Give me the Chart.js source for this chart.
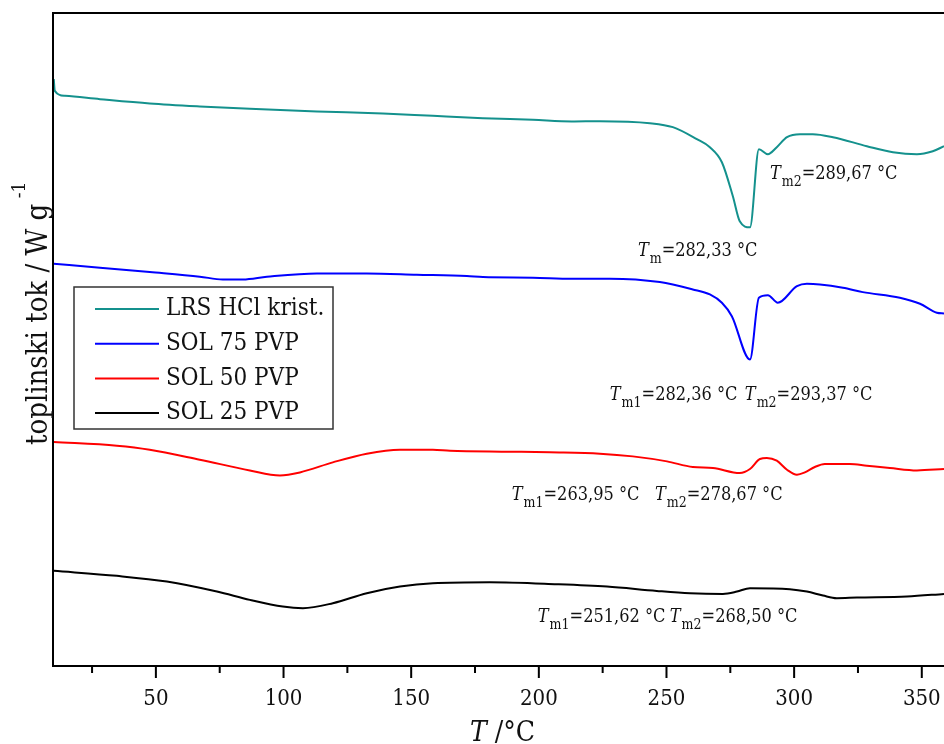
<!DOCTYPE html>
<html>
<head>
<meta charset="utf-8">
<script src="https://cdn.jsdelivr.net/npm/chart.js@4.4.0/dist/chart.umd.min.js"></script>
<style>
  html, body { margin: 0; padding: 0; background: #fff; }
  #wrap { width: 944px; height: 744px; }
</style>
</head>
<body>
<div id="wrap"><canvas id="dsc"></canvas></div>
<script>
const seriesNames = ['LRS HCl krist.', 'SOL 75 PVP', 'SOL 50 PVP', 'SOL 25 PVP'];
const seriesColors = ['#14918d', '#0000ff', '#ff0000', '#000000'];

// temperatures (°C) and heat flow (arbitrary units, curves are offset)
const tempLRS = [10, 10.4, 14.4, 28.1, 47.6, 67.2, 86.8, 113.1, 138.9, 158.5, 178.1, 197.7, 212.9, 223.9, 243.5, 252.5, 261.9, 267, 271.7, 276, 278.7, 282.7, 286.2, 289.7, 293.2, 297.2, 302.3, 307.3, 315.2, 328.5, 338.7, 348.1, 354.3, 358.7];
const flowLRS = [58.6, 57.43, 56.93, 56.6, 56.17, 55.87, 55.63, 55.37, 55.17, 54.93, 54.7, 54.53, 54.37, 54.4, 54.2, 53.8, 52.6, 51.8, 50.3, 46.9, 44.4, 43.8, 51.6, 51.1, 51.8, 52.8, 53.1, 53.1, 52.8, 51.9, 51.3, 51.1, 51.4, 51.9];

const temp75 = [10, 28.1, 47.6, 67.2, 76.2, 84.1, 93.5, 113.1, 132.6, 152.2, 171.8, 178.1, 197.7, 212.9, 227.8, 247.4, 260.3, 267, 271.7, 275.6, 282.7, 286.2, 289.7, 293.6, 301.1, 305, 310.1, 319.1, 326.9, 341.4, 349.3, 355.9, 358.7];
const flow75 = [40.17, 39.77, 39.33, 38.87, 38.6, 38.6, 38.87, 39.2, 39.2, 39.07, 38.93, 38.83, 38.77, 38.67, 38.67, 38.33, 37.6, 37.1, 36.27, 34.93, 30.6, 36.77, 37.03, 36.27, 37.93, 38.17, 38.1, 37.77, 37.33, 36.77, 36.17, 35.27, 35.2];

const temp50 = [10, 34.7, 47.6, 67.2, 86.8, 98.6, 106.4, 119.3, 132.6, 145.6, 158.5, 165.2, 188.7, 204.3, 223.9, 236.8, 250.2, 260.3, 268.2, 278.7, 282.7, 286.6, 289.3, 293.2, 297.2, 301.1, 304.2, 308.1, 312, 321.8, 328.5, 337.5, 348.1, 358.7];
const flow50 = [22.37, 22, 21.6, 20.6, 19.53, 19.03, 19.33, 20.33, 21.2, 21.6, 21.6, 21.5, 21.4, 21.33, 21.2, 20.93, 20.43, 19.87, 19.77, 19.27, 19.67, 20.67, 20.77, 20.5, 19.6, 19.1, 19.33, 19.87, 20.17, 20.17, 20, 19.77, 19.53, 19.67];

const temp25 = [10, 34.7, 54.3, 73.9, 86.8, 99.7, 107.6, 119.3, 132.6, 145.6, 158.5, 180.8, 207.1, 226.7, 246.2, 259.2, 272.1, 277.6, 282.7, 298.3, 305, 311.3, 316.7, 324.6, 344.2, 358.7];
const flow25 = [9.5, 9, 8.43, 7.43, 6.6, 5.93, 5.77, 6.27, 7.27, 7.93, 8.27, 8.37, 8.17, 7.93, 7.5, 7.27, 7.2, 7.43, 7.77, 7.67, 7.43, 7.03, 6.77, 6.83, 6.93, 7.2];

const majorTicks = [50, 100, 150, 200, 250, 300, 350];
const minorTicks = [25, 75, 125, 175, 225, 275, 325];

// peak annotations: subscript, text, anchor (temperature, flow)
const noteSub = ['m', 'm2', 'm1', 'm2', 'm1', 'm2', 'm1', 'm2'];
const noteText = ['=282,33 °C', '=289,67 °C', '=282,36 °C', '=293,37 °C', '=263,95 °C', '=278,67 °C', '=251,62 °C', '=268,50 °C'];
const noteTemp = [238.8, 290.5, 227.8, 280.7, 189.4, 245.5, 199.6, 251.3];
const noteFlow = [40.9, 48.6, 26.6, 26.6, 16.6, 16.6, 4.4, 4.4];

const FONT = '"DejaVu Serif Condensed", "DejaVu Serif", serif';

function toPoints(xs, ys) {
    return xs.map((x, i) => ({ x: x, y: ys[i] }));
}

const allSeries = [
    toPoints(tempLRS, flowLRS),
    toPoints(temp75, flow75),
    toPoints(temp50, flow50),
    toPoints(temp25, flow25)
];

const decorations = {
    id: 'decorations',
    afterDraw(chart) {
        const { ctx, chartArea: a, scales: { x, y } } = chart;
        ctx.save();

        // frame (right side is cut off in the original)
        ctx.strokeStyle = '#000';
        ctx.lineWidth = 2;
        ctx.beginPath();
        ctx.moveTo(a.right + 2, a.top);
        ctx.lineTo(a.left, a.top);
        ctx.lineTo(a.left, a.bottom);
        ctx.lineTo(a.right + 2, a.bottom);
        ctx.stroke();

        // tick marks, outside
        ctx.beginPath();
        x.ticks.forEach(t => {
            const px = x.getPixelForValue(t.value);
            const len = majorTicks.includes(t.value) ? 12 : 7;
            ctx.moveTo(px, a.bottom);
            ctx.lineTo(px, a.bottom + len);
        });
        ctx.stroke();

        // legend
        const lx = a.left + 21, ly = a.top + 274;
        ctx.fillStyle = '#fff';
        ctx.fillRect(lx, ly, 259, 142);
        ctx.strokeStyle = '#333';
        ctx.lineWidth = 1.5;
        ctx.strokeRect(lx, ly, 259, 142);
        ctx.font = '24px ' + FONT;
        ctx.textBaseline = 'middle';
        chart.data.datasets.forEach((ds, i) => {
            const cy = ly + 22 + i * 34.7;
            ctx.strokeStyle = ds.borderColor;
            ctx.lineWidth = 2;
            ctx.beginPath();
            ctx.moveTo(lx + 21, cy);
            ctx.lineTo(lx + 85, cy);
            ctx.stroke();
            ctx.fillStyle = '#111';
            ctx.fillText(ds.label, lx + 92, cy);
        });

        // peak labels
        ctx.textBaseline = 'alphabetic';
        ctx.fillStyle = '#111';
        noteText.forEach((txt, i) => {
            let px = x.getPixelForValue(noteTemp[i]);
            const py = y.getPixelForValue(noteFlow[i]);
            ctx.font = 'italic 18px ' + FONT;
            ctx.fillText('T', px, py);
            px += ctx.measureText('T').width + 1;
            ctx.font = '14px ' + FONT;
            ctx.fillText(noteSub[i], px, py + 7);
            px += ctx.measureText(noteSub[i]).width;
            ctx.font = '18px ' + FONT;
            ctx.fillText(txt, px, py);
        });

        // x title
        const cx = (a.left + a.right) / 2;
        ctx.font = 'italic 28px ' + FONT;
        const wT = ctx.measureText('T ').width;
        ctx.font = '28px ' + FONT;
        const wR = ctx.measureText('/°C').width;
        let tx = cx + 4 - (wT + wR) / 2;
        ctx.font = 'italic 28px ' + FONT;
        ctx.fillText('T ', tx, 741);
        ctx.font = '28px ' + FONT;
        ctx.fillText('/°C', tx + wT, 741);

        // y title, rotated
        ctx.translate(47, 445);
        ctx.rotate(-Math.PI / 2);
        ctx.font = '29px ' + FONT;
        const main = 'toplinski tok / W g';
        ctx.fillText(main, 0, 0);
        const w = ctx.measureText(main).width;
        ctx.font = '19px ' + FONT;
        ctx.fillText(' -1', w, -22);

        ctx.restore();
    }
};

const ctx = document.getElementById('dsc').getContext('2d');
new Chart(ctx, {
    type: 'line',
    data: {
        datasets: allSeries.map((pts, i) => ({
            label: seriesNames[i],
            data: pts,
            borderColor: seriesColors[i],
            borderWidth: 2,
            pointRadius: 0,
            cubicInterpolationMode: 'monotone',
            fill: false
        }))
    },
    options: {
        responsive: true,
        maintainAspectRatio: false,
        animation: false,
        layout: { padding: { left: 53, top: 13, right: 0, bottom: 33 } },
        plugins: {
            legend: { display: false },
            tooltip: { enabled: false }
        },
        scales: {
            x: {
                type: 'linear',
                min: 9.7,
                max: 358.7,
                afterBuildTicks: scale => {
                    scale.ticks = minorTicks.concat(majorTicks).sort((p, q) => p - q).map(v => ({ value: v }));
                },
                afterFit: scale => {
                    scale.height = 45;
                    scale.paddingLeft = 0;
                    scale.paddingRight = 0;
                },
                grid: { display: false, drawTicks: false },
                border: { display: false },
                ticks: {
                    padding: 20,
                    autoSkip: false,
                    maxRotation: 0,
                    color: '#111',
                    font: { family: FONT, size: 22 },
                    callback: v => majorTicks.includes(v) ? String(v) : ''
                }
            },
            y: {
                type: 'linear',
                display: false,
                min: 0,
                max: 65.2
            }
        }
    },
    plugins: [decorations]
});
</script>
</body>
</html>
